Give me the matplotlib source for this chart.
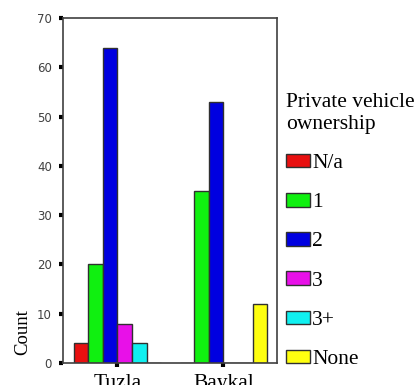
import matplotlib
matplotlib.use("Agg")
import matplotlib.pyplot as plt
import numpy as np

groups = ["Tuzla", "Baykal"]
categories = ["N/a", "1", "2", "3", "3+", "None"]
values = {
    "N/a": [4, 0],
    "1": [20, 35],
    "2": [64, 53],
    "3": [8, 0],
    "3+": [4, 0],
    "None": [0, 12],
}
colors = ["#e81010", "#10f010", "#0000e0", "#e810e8", "#10f0f0", "#ffff10"]
yticks = [0, 10, 20, 30, 40, 50, 60, 70]

W, H = 419, 385
fig = plt.figure(figsize=(W / 100, H / 100), dpi=100)
ax = fig.add_axes([63 / W, (H - 363) / H, (277 - 63) / W, (363 - 18) / H])

x = np.arange(len(groups))
bw = 0.137
handles = []
for i, cat in enumerate(categories):
    offs = (i - (len(categories) - 1) / 2) * bw
    b = ax.bar(x + offs, values[cat], width=bw, color=colors[i],
               edgecolor="#303030", linewidth=1.0, label=cat)
    handles.append(b)

ax.set_xlim(-0.514, 1.505)
ax.set_ylim(0, 70)
ax.set_yticks(yticks)
ax.set_yticklabels([str(t) for t in yticks], fontsize=8.5, color="#404040",
                   family="DejaVu Sans")
ax.set_xticks(x)
ax.set_xticklabels(groups, fontsize=15.5, family="Liberation Serif")
ax.tick_params(axis="y", length=3, width=3, color="black", pad=5, direction="out")
ax.tick_params(axis="x", length=3, width=3, color="black", pad=5, direction="out")
for s in ax.spines.values():
    s.set_color("#404040")
    s.set_linewidth(1.2)

ax.set_ylabel("Count", fontsize=13.5, family="Liberation Serif")
ax.yaxis.set_label_coords(-0.15, 0.091)

leg = ax.legend(handles=handles, labels=categories, title="Private vehicle\nownership",
                loc="upper left", bbox_to_anchor=(286 / W, 1 - 93 / H),
                bbox_transform=fig.transFigure, frameon=False,
                prop={"family": "Liberation Serif", "size": 15.5},
                title_fontproperties={"family": "Liberation Serif", "size": 15.5},
                handlelength=1.12, handleheight=0.6, handletextpad=0.1,
                labelspacing=0.92, borderaxespad=0, borderpad=0,
                alignment="left")

fig.savefig("out.png", dpi=100)
